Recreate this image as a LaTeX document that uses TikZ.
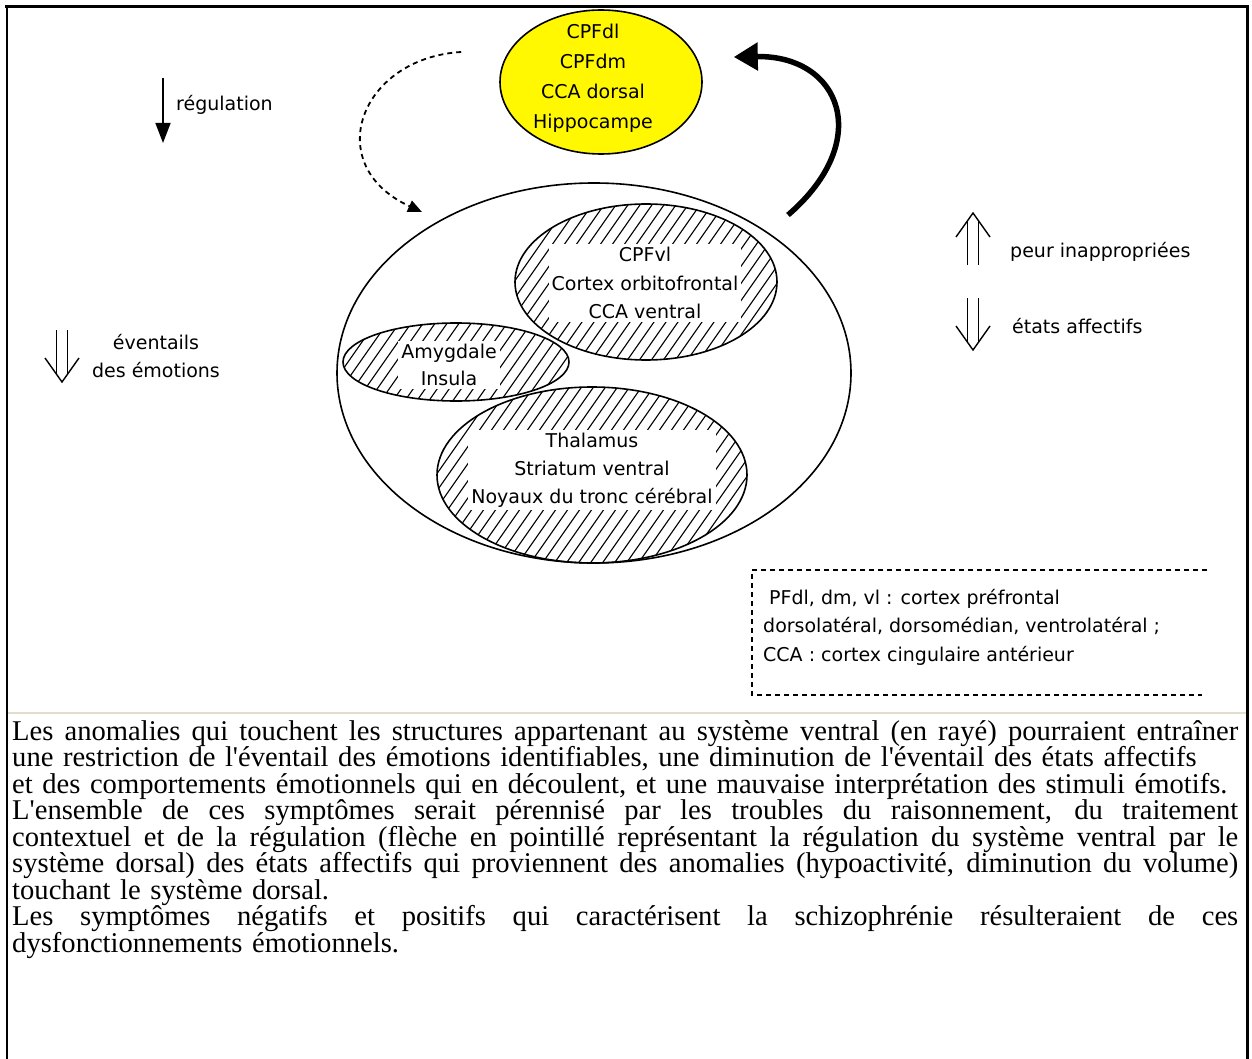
\documentclass[tikz,border=0pt]{standalone}
\usepackage{fontspec}
\setmainfont{Liberation Serif}
\newfontfamily\labfont{DejaVu Sans}
\usetikzlibrary{arrows.meta,shapes.geometric}
\definecolor{dorsyellow}{RGB}{255,248,0}
\definecolor{sepcol}{RGB}{226,222,204}
\newcommand\jline[1]{\leavevmode\hbox to 1226pt{\spaceskip=0.25em plus 1fil\relax #1}}
\tikzset{
  lab/.style={font=\labfont\fontsize{19}{28.5}\selectfont, align=center, inner sep=0pt},
  whitelab/.style={lab, fill=white, inner sep=3pt},
  region/.style={ellipse, draw, line width=1.6pt, inner sep=0pt},
  hatch/.style={path picture={
      \foreach \k in {-40,...,40}{
        \draw[line width=1.1pt] ([shift={(\k*12-70,100)}]path picture bounding box.center) -- ++(140,-200);}}},
  body/.style={font=\fontsize{28.6}{26.5}\selectfont, align=left, inner sep=0pt, text width=1226pt},
  dbldown/.pic={
    \draw[line width=1.4pt] (-5.5,-52) -- (-5.5,-8) (5.5,-52) -- (5.5,-8);
    \draw[line width=1.4pt] (-17,-24) -- (0,0) -- (17,-24);
  }
}
\begin{document}
\begin{tikzpicture}[x=1pt,y=-1pt]
\useasboundingbox (0,0) rectangle (1252,1059);

% ventral system
\node[region, minimum width=514pt, minimum height=380pt] (ventral) at (594,373) {};
\node[region, hatch, minimum width=262pt, minimum height=156pt] (vl) at (646,282) {};
\node[region, hatch, minimum width=310pt, minimum height=176pt] (thal) at (592,475) {};
\node[region, hatch, minimum width=226pt, minimum height=78pt] (amyg) at (456,362) {};
\node[whitelab] (vl-t) at (645,283) {CPFvl\\Cortex orbitofrontal\\CCA ventral};
\node[whitelab, font=\labfont\fontsize{19}{27}\selectfont] (amyg-t) at (449,365) {Amygdale\\Insula};
\node[whitelab, font=\labfont\fontsize{19}{28}\selectfont] (thal-t) at (592,470) {Thalamus\\Striatum ventral\\Noyaux du tronc cérébral};

% dorsal system
\node[region, fill=dorsyellow, minimum width=202pt, minimum height=144pt] (dors) at (601,82) {};
\node[lab, font=\labfont\fontsize{19}{30}\selectfont] (dors-t) at (593,78) {CPFdl\\CPFdm\\CCA dorsal\\Hippocampe};

% regulation (dashed) and feedback (solid) arrows
\draw[line width=1.8pt, dash pattern=on 5pt off 4pt, -{Triangle[length=14pt,width=12pt]}]
  ([shift={(-38,-30)}]dors.west) .. controls (360,58) and (320,165) .. ([shift={(-172,-161)}]ventral.center);
\draw[line width=5.5pt, -{Triangle[length=24pt,width=27pt]}]
  ([shift={(194,-158)}]ventral.center) .. controls (875,140) and (840,55) .. ([shift={(31,-25)}]dors.east);

% legends
\node[lab, anchor=west] (reg) at (176,105) {régulation};
\draw[line width=1.5pt, -{Triangle[length=20pt,width=15pt]}] ([shift={(-13,-27)}]reg.west) -- ([shift={(-13,38)}]reg.west);

\node[lab, font=\labfont\fontsize{19}{28}\selectfont] (evt) at (156,356) {éventails\\des émotions};
\pic at (62,382) {dbldown};

\node[lab, anchor=west] (peur) at (1010,252) {peur inappropriées};
\node[lab, anchor=west] (etats) at (1012,326) {états affectifs};
\pic[rotate=180] at (973,213) {dbldown};
\pic at (973,350) {dbldown};

% abbreviation box
\draw[line width=1.5pt, dash pattern=on 5pt off 4pt] (1207,570) -- (752,570) -- (752,695) -- (1202,695);
\node[lab, align=left, anchor=north west] (abbr) at (763,589) {\hspace{6pt}PFdl, dm, vl : cortex préfrontal\\dorsolatéral, dorsomédian, ventrolatéral ;\\CCA : cortex cingulaire antérieur};

% frame
\draw[line width=3pt] (5,7) -- (1248.5,7);
\draw[line width=2.4pt] (7,6) -- (7,1059);
\draw[line width=3pt] (1247,6) -- (1247,1059);
\draw[sepcol, line width=2pt] (8,713) -- (1246,713);

% caption text
\node[body, anchor=north west] (txt) at (12,720) {%
\jline{Les anomalies qui touchent les structures appartenant au système ventral (en rayé) pourraient entraîner}\\
\mbox{une restriction de l\textquotesingle éventail des émotions identifiables, une diminution de l\textquotesingle éventail des états affectifs}\\
\mbox{et des comportements émotionnels qui en découlent, et une mauvaise interprétation des stimuli émotifs.}\\
\jline{L\textquotesingle ensemble de ces symptômes serait pérennisé par les troubles du raisonnement, du traitement}\\
\jline{contextuel et de la régulation (flèche en pointillé représentant la régulation du système ventral par le}\\
\jline{système dorsal) des états affectifs qui proviennent des anomalies (hypoactivité, diminution du volume)}\\
\mbox{touchant le système dorsal.}\\
\jline{Les symptômes négatifs et positifs qui caractérisent la schizophrénie résulteraient de ces}\\
\mbox{dysfonctionnements émotionnels.}};
\end{tikzpicture}
\end{document}
